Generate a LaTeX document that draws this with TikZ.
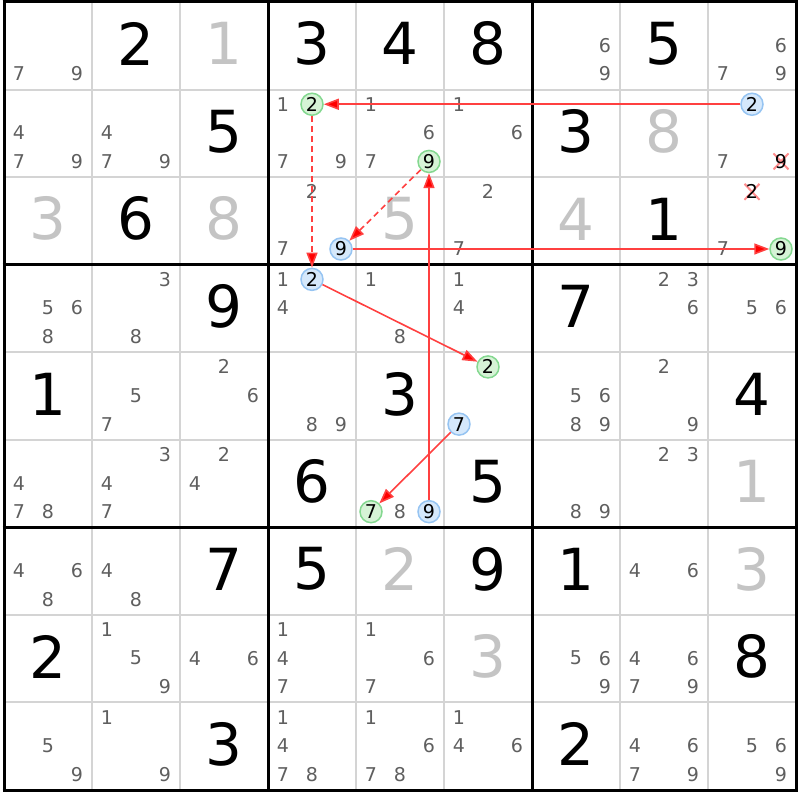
\documentclass[tikz,border=0pt]{standalone}
\usepackage{fontspec}
\setmainfont{DejaVu Sans}
\usetikzlibrary{arrows.meta,shapes.misc}
\definecolor{cand}{HTML}{5F5F5F}
\definecolor{solv}{HTML}{C4C4C4}
\definecolor{thingrid}{HTML}{D4D4D4}
\definecolor{bfill}{HTML}{D5E8FB}
\definecolor{bline}{HTML}{96C4F2}
\definecolor{gfill}{HTML}{D6F3D6}
\definecolor{gline}{HTML}{84D890}
\definecolor{lnk}{HTML}{FF4040}
\definecolor{xcol}{HTML}{FF8C8C}
\tikzset{
  candtxt/.style={inner sep=0pt, text=cand, font=\fontsize{19}{19}\selectfont},
  givtxt/.style={inner sep=0pt, text=black, font=\fontsize{58}{58}\selectfont},
  soltxt/.style={inner sep=0pt, text=solv, font=\fontsize{58}{58}\selectfont},
  bluec/.style={circle, inner sep=0pt, minimum size=22pt, draw=bline, fill=bfill, line width=1.5pt, text=black, font=\fontsize{19}{19}\selectfont},
  greenc/.style={circle, inner sep=0pt, minimum size=22pt, draw=gline, fill=gfill, line width=1.5pt, text=black, font=\fontsize{19}{19}\selectfont},
  crossc/.style={cross out, draw=xcol, line width=2pt, minimum width=13pt, minimum height=14pt, inner sep=0pt},
  crosstxt/.style={inner sep=0pt, text=black, font=\fontsize{19}{19}\selectfont},
  link/.style={draw=lnk, line width=1.6pt, -{Triangle[length=15pt,width=11pt,fill=red]}},
  weaklink/.style={link, dash pattern=on 6pt off 4pt},
}
\newcommand\candpos[3]{({88*#2-40+29*(mod(#3-1,3)-1)},{87.56*#1-42.28+28.6*(div(#3-1,3)-1)})}
\newcommand\cands[3]{\foreach \dd in {#3}{\node[candtxt] (n#1#2\dd) at \candpos{#1}{#2}{\dd} {\dd};}}
\newcommand\hcand[4]{\node[#4] (n#1#2#3) at \candpos{#1}{#2}{#3} {#3};}
\newcommand\xcand[3]{\node[crossc] (x#1#2#3) at \candpos{#1}{#2}{#3} {}; \node[crosstxt] (n#1#2#3) at \candpos{#1}{#2}{#3} {#3};}
\newcommand\giv[3]{\node[givtxt] (g#1#2) at ({88*#2-40},{87.56*#1-43.8}) {#3};}
\newcommand\sol[3]{\node[soltxt] (g#1#2) at ({88*#2-40},{87.56*#1-43.8}) {#3};}
\begin{document}
\begin{tikzpicture}[x=1pt,y=-1pt]
\useasboundingbox (0,0) rectangle (800,800);
\fill[white] (0,0) rectangle (800,800);
% thin lines
\foreach \i in {1,2,4,5,7,8}{
  \draw[thingrid, line width=2pt] ({4+88*\i},2) -- ({4+88*\i},790);
  \draw[thingrid, line width=2pt] (4,{2+87.56*\i}) -- (796,{2+87.56*\i});
}
% thick lines
\foreach \i in {0,3,6,9}{
  \draw[black, line width=3pt] ({4+88*\i},0.5) -- ({4+88*\i},791.5);
  \draw[black, line width=3pt] (2.5,{2+87.56*\i}) -- (797.5,{2+87.56*\i});
}
% row 1
\cands{1}{1}{7,9} \giv{1}{2}{2} \sol{1}{3}{1} \giv{1}{4}{3} \giv{1}{5}{4} \giv{1}{6}{8}
\cands{1}{7}{6,9} \giv{1}{8}{5} \cands{1}{9}{6,7,9}
% row 2
\cands{2}{1}{4,7,9} \cands{2}{2}{4,7,9} \giv{2}{3}{5}
\cands{2}{4}{1,7,9} \hcand{2}{4}{2}{greenc}
\cands{2}{5}{1,6,7} \hcand{2}{5}{9}{greenc}
\cands{2}{6}{1,6} \giv{2}{7}{3} \sol{2}{8}{8}
\cands{2}{9}{7} \hcand{2}{9}{2}{bluec} \xcand{2}{9}{9}
% row 3
\sol{3}{1}{3} \giv{3}{2}{6} \sol{3}{3}{8}
\cands{3}{4}{2,7} \hcand{3}{4}{9}{bluec}
\sol{3}{5}{5} \cands{3}{6}{2,7} \sol{3}{7}{4} \giv{3}{8}{1}
\cands{3}{9}{7} \xcand{3}{9}{2} \hcand{3}{9}{9}{greenc}
% row 4
\cands{4}{1}{5,6,8} \cands{4}{2}{3,8} \giv{4}{3}{9}
\cands{4}{4}{1,4} \hcand{4}{4}{2}{bluec}
\cands{4}{5}{1,8} \cands{4}{6}{1,4} \giv{4}{7}{7} \cands{4}{8}{2,3,6} \cands{4}{9}{5,6}
% row 5
\giv{5}{1}{1} \cands{5}{2}{5,7} \cands{5}{3}{2,6} \cands{5}{4}{8,9} \giv{5}{5}{3}
\hcand{5}{6}{2}{greenc} \hcand{5}{6}{7}{bluec}
\cands{5}{7}{5,6,8,9} \cands{5}{8}{2,9} \giv{5}{9}{4}
% row 6
\cands{6}{1}{4,7,8} \cands{6}{2}{3,4,7} \cands{6}{3}{2,4} \giv{6}{4}{6}
\hcand{6}{5}{7}{greenc} \cands{6}{5}{8} \hcand{6}{5}{9}{bluec}
\giv{6}{6}{5} \cands{6}{7}{8,9} \cands{6}{8}{2,3} \sol{6}{9}{1}
% row 7
\cands{7}{1}{4,6,8} \cands{7}{2}{4,8} \giv{7}{3}{7} \giv{7}{4}{5} \sol{7}{5}{2} \giv{7}{6}{9}
\giv{7}{7}{1} \cands{7}{8}{4,6} \sol{7}{9}{3}
% row 8
\giv{8}{1}{2} \cands{8}{2}{1,5,9} \cands{8}{3}{4,6} \cands{8}{4}{1,4,7} \cands{8}{5}{1,6,7}
\sol{8}{6}{3} \cands{8}{7}{5,6,9} \cands{8}{8}{4,6,7,9} \giv{8}{9}{8}
% row 9
\cands{9}{1}{5,9} \cands{9}{2}{1,9} \giv{9}{3}{3} \cands{9}{4}{1,4,7,8} \cands{9}{5}{1,6,7,8}
\cands{9}{6}{1,4,6} \giv{9}{7}{2} \cands{9}{8}{4,6,7,9} \cands{9}{9}{5,6,9}
% links
\draw[link] (n292) -- (n242);
\draw[weaklink] (n242) -- (n442);
\draw[link] (n442) -- (n562);
\draw[link] (n567) -- (n657);
\draw[link] (n659) -- (n259);
\draw[weaklink] (n259) -- (n349);
\draw[link] (n349) -- (n399);
\end{tikzpicture}
\end{document}
